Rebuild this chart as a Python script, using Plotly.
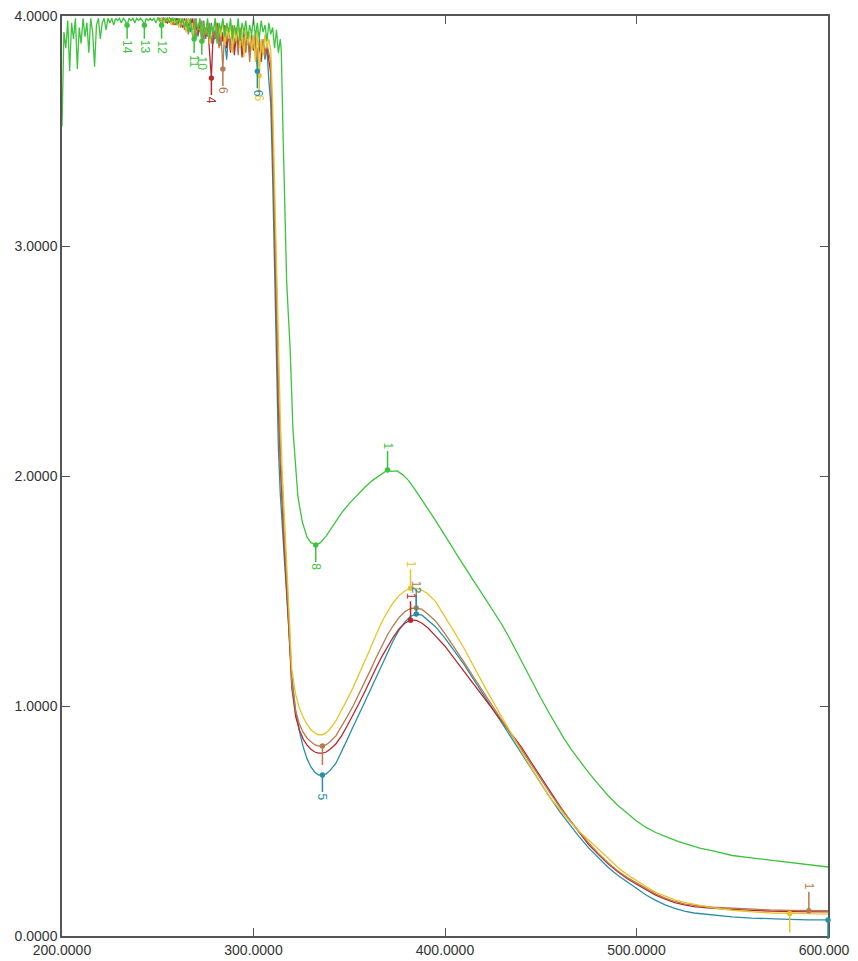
import plotly.graph_objects as go

# ---------------- data ----------------
# Green series: noisy saturated region 200-314 nm (1 nm steps) then smooth part
green_noise_x = list(range(200, 315))
green_noise_y = [
    3.52, 3.93, 3.86, 3.98, 3.76, 3.97, 3.90, 3.99, 3.77, 3.95,
    3.88, 3.99, 3.91, 3.97, 3.84, 3.99, 3.93, 3.78, 3.96, 3.99,
    3.90, 3.97, 3.99, 3.94, 3.99, 3.97, 3.99, 3.96, 3.99, 3.98,
    3.99, 3.97, 3.99, 3.98, 3.96, 3.99, 3.98, 3.99, 3.97, 3.99,
    3.98, 3.99, 3.98, 3.96, 3.99, 3.98, 3.99, 3.98, 3.99, 3.97,
    3.99, 3.98, 3.96, 3.99, 3.98, 3.99, 3.97, 3.99, 3.98, 3.99,
    3.96, 3.99, 3.97, 3.99, 3.95, 3.98, 3.93, 3.99, 3.92, 3.90,
    3.98, 3.94, 3.99, 3.89, 3.97, 3.92, 3.99, 3.90, 3.96, 3.93,
    3.99, 3.88, 3.97, 3.94, 3.99, 3.91, 3.97, 3.93, 3.99, 3.90,
    3.96, 3.92, 3.99, 3.89, 3.97, 3.93, 3.98, 3.90, 3.96, 3.92,
    3.99, 3.91, 3.97, 3.90, 3.98, 3.93, 3.96, 3.89, 3.97, 3.92,
    3.95, 3.86, 3.94, 3.84, 3.90,
]
green_x = [314.5, 315.4, 316.3, 317.3, 318.2, 319.1, 320.6, 322.0, 323.2, 325.5,
           327.9, 330.0, 332.5, 335.0, 338.0, 342.0, 346.0, 350.0, 354.0, 358.0,
           362.0, 366.0, 368.0, 370.0, 372.0, 375.0, 378.0, 381.0, 384.0, 387.0,
           390.0, 394.0, 398.0, 402.0, 406.0, 410.0, 414.6, 420.0, 425.0, 430.0,
           434.0, 438.0, 442.0, 446.0, 450.0, 454.0, 458.0, 462.0, 466.0, 470.0,
           475.0, 480.0, 485.0, 490.0, 495.0, 500.0, 505.0, 510.0, 516.0, 522.0,
           528.0, 533.0, 540.0, 550.0, 560.0, 570.0, 580.0, 590.0, 600.0]
green_y = [3.85, 3.50, 3.15, 2.85, 2.70, 2.56, 2.20, 2.02, 1.91, 1.80,
           1.735, 1.71, 1.70, 1.71, 1.74, 1.79, 1.84, 1.88, 1.915, 1.95,
           1.98, 2.005, 2.015, 2.026, 2.02, 2.022, 2.005, 1.98, 1.945, 1.91,
           1.87, 1.82, 1.77, 1.715, 1.66, 1.605, 1.548, 1.48, 1.415, 1.35,
           1.29, 1.225, 1.16, 1.095, 1.035, 0.975, 0.915, 0.86, 0.81, 0.765,
           0.71, 0.66, 0.612, 0.57, 0.535, 0.50, 0.472, 0.45, 0.43, 0.41,
           0.395, 0.382, 0.37, 0.35, 0.34, 0.33, 0.32, 0.31, 0.30]

# Lower four series: noisy region 250-308 nm (1 nm steps)
low_noise_x = list(range(250, 309))
yellow_noise = [
    3.99, 3.98, 3.99, 3.97, 3.99, 3.98, 3.99, 3.96, 3.99, 3.97,
    3.98, 3.95, 3.99, 3.96, 3.98, 3.93, 3.99, 3.95, 3.97, 3.91,
    3.98, 3.94, 3.99, 3.90, 3.97, 3.92, 3.98, 3.88, 3.96, 3.93,
    3.99, 3.89, 3.95, 3.91, 3.98, 3.87, 3.96, 3.90, 3.97, 3.84,
    3.95, 3.89, 3.96, 3.86, 3.94, 3.82, 3.95, 3.88, 3.93, 3.85,
    3.92, 3.80, 3.94, 3.74, 3.90, 3.83, 3.92, 3.86, 3.90,
]
brown_noise = [
    3.99, 3.99, 3.98, 3.99, 3.97, 3.99, 3.98, 3.99, 3.96, 3.99,
    3.97, 3.99, 3.95, 3.98, 3.94, 3.99, 3.92, 3.97, 3.94, 3.99,
    3.90, 3.96, 3.93, 3.98, 3.89, 3.95, 3.91, 3.97, 3.88, 3.94,
    3.90, 3.96, 3.86, 3.93, 3.77, 3.95, 3.89, 3.93, 3.85, 3.96,
    3.88, 3.92, 3.83, 3.95, 3.87, 3.91, 3.84, 3.93, 3.80, 3.90,
    3.86, 3.92, 3.81, 3.89, 3.84, 3.90, 3.82, 3.88, 3.84,
]
red_noise = [
    3.99, 3.98, 3.99, 3.99, 3.98, 3.97, 3.99, 3.98, 3.99, 3.96,
    3.99, 3.97, 3.98, 3.95, 3.99, 3.93, 3.97, 3.95, 3.99, 3.91,
    3.96, 3.92, 3.98, 3.89, 3.95, 3.91, 3.97, 3.86, 3.73, 3.94,
    3.90, 3.97, 3.87, 3.94, 3.89, 3.96, 3.86, 3.93, 3.84, 3.95,
    3.83, 3.92, 3.87, 3.94, 3.82, 3.91, 3.86, 3.93, 3.84, 3.90,
    3.85, 3.91, 3.83, 3.88, 3.80, 3.89, 3.84, 3.87, 3.80,
]
teal_noise = [
    3.99, 3.99, 3.98, 3.99, 3.99, 3.98, 3.99, 3.97, 3.99, 3.98,
    3.99, 3.96, 3.99, 3.97, 3.98, 3.95, 3.99, 3.93, 3.97, 3.94,
    3.99, 3.91, 3.96, 3.93, 3.98, 3.90, 3.95, 3.92, 3.97, 3.88,
    3.94, 3.91, 3.96, 3.87, 3.93, 3.89, 3.81, 3.94, 3.88, 3.92,
    3.85, 3.95, 3.87, 3.91, 3.84, 3.93, 3.86, 3.90, 3.83, 3.92,
    3.85, 3.89, 3.76, 3.90, 3.83, 3.88, 3.81, 3.86, 3.72,
]

# Lower four series: smooth region 309-600 nm
low_x = [309, 310, 311, 312, 313, 314, 315, 316,
         318, 320, 322, 324, 326, 328, 330, 332, 334, 336, 338, 340,
         343, 346, 349, 352, 355, 358, 361, 364, 367, 370, 373, 376, 379, 382, 385, 388, 391,
         395,
         400, 405, 410, 415, 420, 425, 430, 435, 440, 445, 450, 455, 460, 465, 470, 475,
         480, 485, 490, 495, 500, 505, 510, 515, 520, 525, 530,
         540, 550, 560, 570, 580, 590, 600]
yellow_y = [3.85, 3.62, 3.25, 2.90, 2.55, 2.25, 2.02, 1.85,
            1.52, 1.16, 1.05, 0.99, 0.95, 0.92, 0.897, 0.882, 0.875, 0.875, 0.884, 0.90,
            0.935, 0.98, 1.03, 1.08, 1.135, 1.19, 1.25, 1.31, 1.365, 1.41, 1.45, 1.48, 1.50, 1.512, 1.511, 1.503, 1.488,
            1.455,
            1.39, 1.32, 1.25, 1.17, 1.095, 1.02, 0.95, 0.875, 0.80, 0.73, 0.665, 0.60, 0.548, 0.50, 0.455, 0.415,
            0.378, 0.34, 0.30, 0.268, 0.24, 0.215, 0.19, 0.172, 0.157, 0.146, 0.137,
            0.122, 0.112, 0.105, 0.10, 0.098, 0.096, 0.095]
brown_y = [3.80, 3.52, 3.12, 2.75, 2.40, 2.12, 1.92, 1.75,
           1.45, 1.10, 0.98, 0.92, 0.885, 0.86, 0.845, 0.832, 0.826, 0.826, 0.832, 0.845,
           0.87, 0.91, 0.955, 1.00, 1.05, 1.10, 1.155, 1.21, 1.26, 1.31, 1.35, 1.385, 1.41, 1.424, 1.426, 1.42, 1.40,
           1.37,
           1.315, 1.255, 1.19, 1.125, 1.06, 0.995, 0.93, 0.87, 0.81, 0.745, 0.68, 0.62, 0.56, 0.505, 0.455, 0.405,
           0.36, 0.32, 0.285, 0.255, 0.23, 0.205, 0.183, 0.165, 0.15, 0.14, 0.133,
           0.125, 0.12, 0.117, 0.113, 0.111, 0.11, 0.11]
red_y = [3.75, 3.45, 3.02, 2.65, 2.30, 2.05, 1.86, 1.70,
         1.41, 1.08, 0.955, 0.895, 0.855, 0.83, 0.812, 0.80, 0.795, 0.795, 0.80, 0.812,
         0.835, 0.87, 0.915, 0.96, 1.01, 1.06, 1.115, 1.165, 1.215, 1.26, 1.30, 1.335, 1.36, 1.373, 1.372, 1.36, 1.34,
         1.305,
         1.26, 1.205, 1.15, 1.095, 1.04, 0.985, 0.93, 0.875, 0.82, 0.755, 0.69, 0.625, 0.565, 0.505, 0.45, 0.398,
         0.355, 0.315, 0.28, 0.25, 0.225, 0.20, 0.178, 0.16, 0.145, 0.135, 0.128,
         0.12, 0.115, 0.11, 0.108, 0.106, 0.105, 0.105]
teal_y = [3.62, 3.30, 2.85, 2.45, 2.12, 1.92, 1.78, 1.65,
          1.37, 1.13, 0.98, 0.89, 0.82, 0.77, 0.735, 0.712, 0.70, 0.70, 0.705, 0.72,
          0.75, 0.80, 0.855, 0.91, 0.96, 1.015, 1.07, 1.125, 1.18, 1.235, 1.285, 1.33, 1.365, 1.39, 1.40, 1.395, 1.375,
          1.345,
          1.295, 1.24, 1.18, 1.115, 1.05, 0.985, 0.92, 0.86, 0.795, 0.73, 0.665, 0.60, 0.54, 0.485, 0.432, 0.383,
          0.34, 0.30, 0.265, 0.235, 0.205, 0.178, 0.155, 0.135, 0.12, 0.108, 0.10,
          0.09, 0.083, 0.078, 0.074, 0.072, 0.07, 0.07]

x_ticks = [200, 300, 400, 500, 600]
y_ticks = [0, 1, 2, 3, 4]

# Peak-pick labels: (series, wavelength, label, side)
pick_series = ["green", "green", "green", "green", "green", "green", "green",
               "yellow", "yellow", "yellow",
               "brown", "brown", "brown", "brown",
               "red", "red",
               "teal", "teal", "teal", "teal"]
pick_wl = [370, 332.5, 234, 243, 252, 269, 273,
           382, 303, 580,
           385, 284, 336, 590,
           382, 278,
           336, 385, 302, 596]
pick_text = ["1", "8", "14", "13", "12", "11", "10",
             "1", "6", " ",
             "1", "6", " ", "1",
             "1", "4",
             "5", "2", "6", " "]
pick_side = ["up", "down", "down", "down", "down", "down", "down",
             "up", "down", "down",
             "up", "down", "down", "up",
             "up", "down",
             "down", "up", "down", "down"]

# ---------------- figure ----------------
colors = {"green": "#3cc43c", "yellow": "#e6c52a", "brown": "#b87a4e",
          "red": "#b52a2e", "teal": "#2a8ea6"}

series = {
    "green": (green_noise_x + green_x, green_noise_y + green_y),
    "yellow": (low_noise_x + low_x, yellow_noise + yellow_y),
    "brown": (low_noise_x + low_x, brown_noise + brown_y),
    "red": (low_noise_x + low_x, red_noise + red_y),
    "teal": (low_noise_x + low_x, teal_noise + teal_y),
}

fig = go.Figure()
for name in ["teal", "red", "brown", "yellow", "green"]:
    xs, ys = series[name]
    fig.add_trace(go.Scatter(x=xs, y=ys, mode="lines", name=name,
                             line=dict(color=colors[name], width=1.3),
                             showlegend=False, hoverinfo="skip"))

annotations = []
for s, wl, txt, side in zip(pick_series, pick_wl, pick_text, pick_side):
    xs, ys = series[s]
    idx = min(range(len(xs)), key=lambda i: abs(xs[i] - wl))
    annotations.append(dict(
        x=xs[idx], y=ys[idx], xref="x", yref="y", text=txt,
        showarrow=True, arrowhead=6, arrowsize=0.9, arrowwidth=1.5,
        arrowcolor=colors[s], ax=0, ay=(-24 if side == "up" else 22),
        textangle=90, font=dict(family="Liberation Sans, Arial", size=12, color=colors[s]),
        standoff=0, startstandoff=0,
    ))

axis_common = dict(
    showgrid=False, zeroline=False, showline=True, linecolor="#555555", linewidth=1.5,
    mirror="ticks", ticks="inside", ticklen=8, tickwidth=1.2, tickcolor="#555555",
    tickformat=".4f", automargin=False, ticklabeloverflow="allow",
    tickfont=dict(family="Liberation Sans, Arial", size=14, color="#333333"),
)

# The page body adds an 8 px offset, so the figure is sized to fit the window.
fig.update_layout(
    width=850, height=953,
    margin=dict(l=54, r=30, t=8, b=25),
    paper_bgcolor="white", plot_bgcolor="white",
    xaxis=dict(range=[200, 600], tickvals=x_ticks, **axis_common),
    yaxis=dict(range=[0, 4], tickvals=y_ticks, **axis_common),
    annotations=annotations,
    showlegend=False,
)

fig.write_html("out.html")
